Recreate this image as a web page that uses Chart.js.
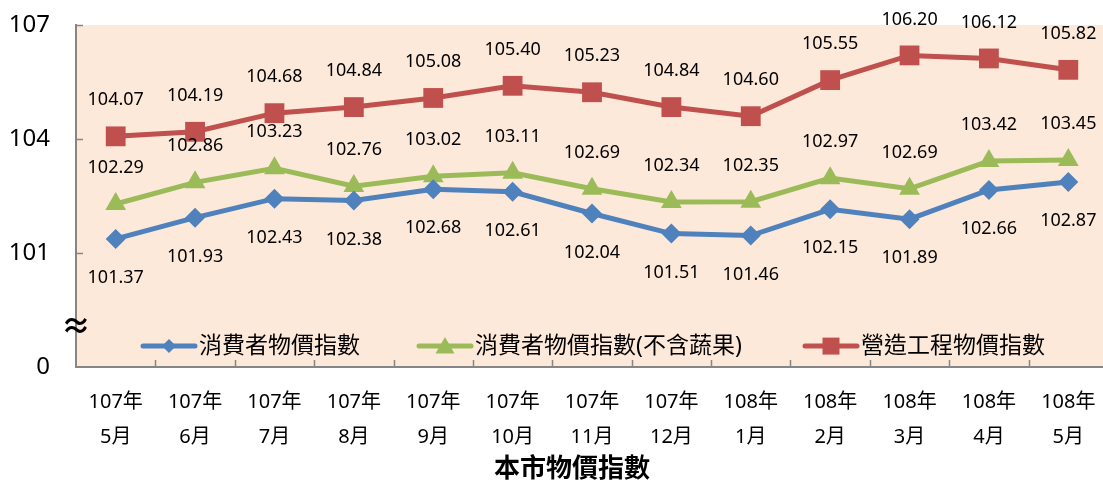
<!DOCTYPE html>
<html>
 <head>
  <meta charset="utf-8">
  <title>本市物價指數</title>
  <style>
  html, body {
   margin: 0;
   padding: 0;
   overflow: hidden;
   background: #fff;
  }
  #wrap {
   width: 1108px;
   height: 482px;
  }
  </style>
 </head>
 <body>
 <div id="wrap"><canvas id="chart"></canvas></div>
 <script src="https://cdn.jsdelivr.net/npm/chart.js@4.4.1/dist/chart.umd.min.js"></script>
 <script type="text/javascript">
 // Categories (year / month)
 const years = ['107年','107年','107年','107年','107年','107年','107年','107年','108年','108年','108年','108年','108年'];
 const months = ['5月','6月','7月','8月','9月','10月','11月','12月','1月','2月','3月','4月','5月'];

 // Series
 const cpiName = '消費者物價指數';
 const cpi = [101.37, 101.93, 102.43, 102.38, 102.68, 102.61, 102.04, 101.51, 101.46, 102.15, 101.89, 102.66, 102.87];
 const cpiExName = '消費者物價指數(不含蔬果)';
 const cpiEx = [102.29, 102.86, 103.23, 102.76, 103.02, 103.11, 102.69, 102.34, 102.35, 102.97, 102.69, 103.42, 103.45];
 const constrName = '營造工程物價指數';
 const constr = [104.07, 104.19, 104.68, 104.84, 105.08, 105.40, 105.23, 104.84, 104.60, 105.55, 106.20, 106.12, 105.82];

 // Y axis: broken at the bottom, lowest tick shown as 0
 const yMin = 98, yMax = 107, yStep = 3;
 const axisTitle = '本市物價指數';

 const FONT = '"Noto Sans", "Noto Sans CJK TC", sans-serif';
 const BLUE = '#4F81BD', GREEN = '#9BBB59', RED = '#C0504D';
 const AXIS = '#868686';

 // draw a marker for the legend
 function marker(ctx, style, x, y, r, color) {
  ctx.save();
  ctx.fillStyle = color;
  ctx.beginPath();
  if (style === 'rectRot') {
   ctx.moveTo(x, y - r); ctx.lineTo(x + r, y); ctx.lineTo(x, y + r); ctx.lineTo(x - r, y);
  } else if (style === 'triangle') {
   ctx.moveTo(x, y - r); ctx.lineTo(x + r * 0.866, y + r / 2); ctx.lineTo(x - r * 0.866, y + r / 2);
  } else {
   ctx.rect(x - r, y - r, 2 * r, 2 * r);
  }
  ctx.closePath();
  ctx.fill();
  ctx.restore();
 }

 const decor = {
  id: 'decor',
  beforeDraw(chart) {
   const a = chart.chartArea, ctx = chart.ctx;
   ctx.save();
   ctx.fillStyle = '#FDE9D9';
   ctx.fillRect(a.left, a.top, a.right - a.left, a.bottom - a.top);
   ctx.restore();
  },
  afterDraw(chart) {
   const a = chart.chartArea, ctx = chart.ctx;
   const x = chart.scales.x, y = chart.scales.y;
   ctx.save();
   // inward tick marks
   ctx.strokeStyle = AXIS;
   ctx.lineWidth = 1.5;
   ctx.beginPath();
   for (let v = yMin + yStep; v <= yMax; v += yStep) {
    const py = Math.round(y.getPixelForValue(v)) + 0.5;
    ctx.moveTo(a.left, py); ctx.lineTo(a.left + 7, py);
   }
   for (let i = 1; i < years.length; i++) {
    const px = Math.round((x.getPixelForValue(i - 1) + x.getPixelForValue(i)) / 2) + 0.5;
    ctx.moveTo(px, a.bottom); ctx.lineTo(px, a.bottom - 7);
   }
   ctx.stroke();

   // axis break sign
   ctx.fillStyle = '#000';
   ctx.font = 'bold 30px ' + FONT;
   ctx.textAlign = 'center';
   ctx.textBaseline = 'middle';
   ctx.fillText('≈', a.left, y.getPixelForValue(99.05));

   // value labels
   ctx.font = '18px ' + FONT;
   chart.data.datasets.forEach((ds, di) => {
    const meta = chart.getDatasetMeta(di);
    const off = ds.labelOffset;
    meta.data.forEach((pt, i) => {
     ctx.fillText(ds.data[i].toFixed(2), pt.x, pt.y + off);
    });
   });

   // legend inside plot
   const ly = y.getPixelForValue(98.55);
   ctx.font = '23px ' + FONT;
   ctx.textAlign = 'left';
   const items = [
    {name: cpiName, color: BLUE, style: 'rectRot', r: 7, x0: 141},
    {name: cpiExName, color: GREEN, style: 'triangle', r: 11, x0: 417},
    {name: constrName, color: RED, style: 'rect', r: 8.5, x0: 803}
   ];
   items.forEach(it => {
    ctx.strokeStyle = it.color;
    ctx.lineWidth = 5;
    ctx.lineCap = 'round';
    ctx.beginPath();
    ctx.moveTo(it.x0 + 2, ly); ctx.lineTo(it.x0 + 54, ly);
    ctx.stroke();
    marker(ctx, it.style, it.x0 + 28, ly + (it.style === 'triangle' ? 2 : 0), it.r, it.color);
    ctx.fillStyle = '#000';
    ctx.fillText(it.name, it.x0 + 58, ly);
   });

   // axis title
   ctx.font = 'bold 26px ' + FONT;
   ctx.textAlign = 'center';
   ctx.fillText(axisTitle, 572, 470);
   ctx.restore();
  }
 };

 const ctx = document.getElementById('chart').getContext('2d');
 const chart = new Chart(ctx, {
  type: 'line',
  data: {
   labels: years.map((yr, i) => [yr, months[i]]),
   datasets: [
    {
     label: cpiName, data: cpi, borderColor: BLUE, backgroundColor: BLUE,
     pointStyle: 'rectRot', pointRadius: 10, labelOffset: 39
    },
    {
     label: cpiExName, data: cpiEx, borderColor: GREEN, backgroundColor: GREEN,
     pointStyle: 'triangle', pointRadius: 12, labelOffset: -36
    },
    {
     label: constrName, data: constr, borderColor: RED, backgroundColor: RED,
     pointStyle: 'rect', pointRadius: 14, labelOffset: -36
    }
   ]
  },
  options: {
   responsive: true,
   maintainAspectRatio: false,
   animation: false,
   layout: { autoPadding: false, padding: { top: 25, left: 0, right: 0, bottom: 0 } },
   elements: {
    line: { borderWidth: 5, tension: 0 },
    point: { borderWidth: 0, hoverRadius: 12 }
   },
   plugins: {
    legend: { display: false },
    tooltip: { enabled: false }
   },
   scales: {
    x: {
     offset: true,
     grid: { display: false, drawTicks: false },
     border: { display: true, color: AXIS, width: 2 },
     ticks: {
      color: '#000',
      padding: 18,
      maxRotation: 0,
      autoSkip: false,
      font: { family: FONT, size: 20, lineHeight: 1.75 }
     },
     afterFit(scale) {
      scale.height = 115;
      scale.paddingLeft = 0;
      scale.paddingRight = 0;
     }
    },
    y: {
     min: yMin,
     max: yMax,
     grid: { display: false, drawTicks: false },
     border: { display: true, color: AXIS, width: 2 },
     ticks: {
      stepSize: yStep,
      color: '#000',
      padding: 26,
      font: { family: FONT, size: 24 },
      callback: v => (v === yMin ? '0' : v)
     },
     afterFit(scale) {
      scale.width = 76;
      scale.paddingTop = 0;
      scale.paddingBottom = 0;
     }
    }
   }
  },
  plugins: [decor]
 });
 </script>
 </body>
</html>
